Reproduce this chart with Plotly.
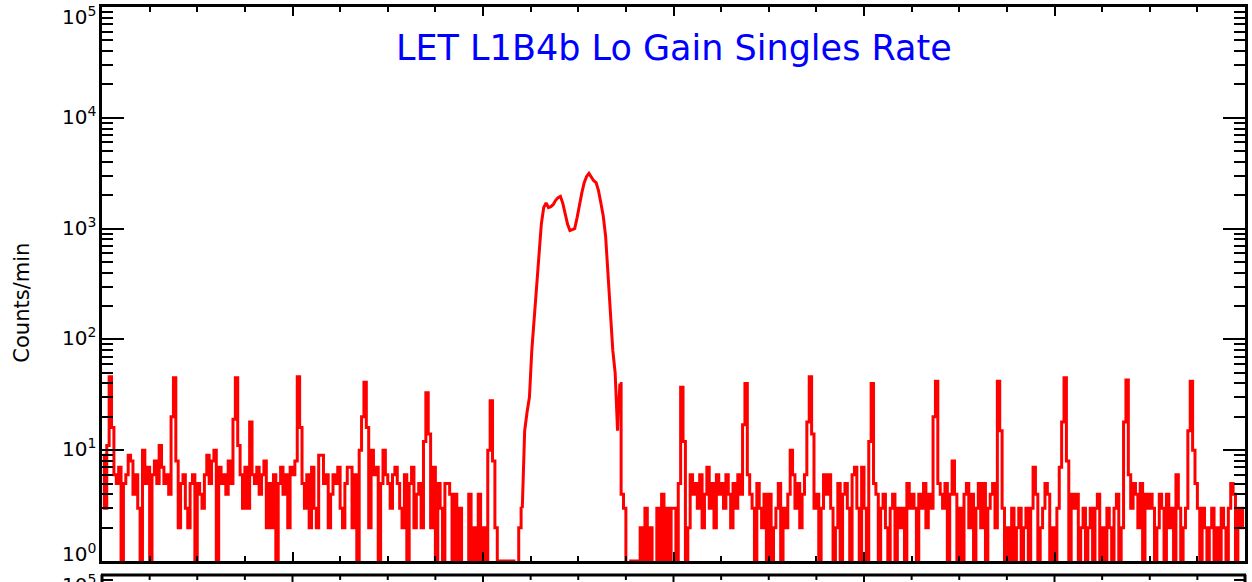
import plotly.graph_objects as go

# Counts/min in 3-minute bins, 20 bins per hour, hours 0..23
h00 = [9, 3, 11, 46, 16, 6, 5, 7, 0, 5, 6, 9, 8, 4, 6, 3, 0, 10, 5, 7]
h01 = [0, 6, 8, 5, 11, 7, 5, 6, 4, 20, 45, 8, 2, 5, 6, 3, 2, 5, 6, 0]
h02 = [5, 4, 3, 6, 9, 5, 8, 10, 0, 7, 5, 6, 4, 8, 5, 19, 45, 11, 6, 3]
h03 = [7, 3, 18, 6, 5, 7, 4, 6, 8, 2, 5, 2, 6, 0, 5, 7, 4, 6, 2, 7]
h04 = [6, 8, 46, 16, 5, 3, 6, 2, 7, 3, 2, 9, 9, 5, 6, 2, 4, 6, 5, 7]
h05 = [3, 2, 5, 7, 7, 2, 6, 0, 10, 20, 41, 16, 2, 10, 6, 7, 0, 5, 10, 6]
h06 = [5, 3, 6, 7, 5, 3, 2, 6, 0, 5, 7, 2, 4, 5, 2, 12, 33, 14, 2, 7]
h07 = [0, 5, 3, 0, 5, 5, 4, 0, 4, 0, 3, 0, 0, 0, 4, 0, 2, 0, 4, 0]
h08 = [2, 0, 10, 28, 8, 2, 0, 1, 1, 1, 0, 1, 1, 0, 0, 2, 3, 15, 22, 30]
h09 = [80, 160, 330, 640, 1100, 1550, 1700, 1550, 1580, 1650, 1800, 1900, 1950, 1700, 1350, 1100, 960, 980, 1000, 1250]
h10 = [1700, 2100, 2600, 2950, 3150, 2900, 2700, 2600, 2200, 1700, 1300, 850, 400, 170, 80, 50, 15, 40, 4, 3]
h11 = [0, 0, 1, 1, 1, 0, 2, 0, 3, 0, 2, 0, 0, 3, 0, 4, 0, 3, 0, 3]
h12 = [3, 0, 5, 37, 12, 0, 2, 6, 4, 5, 3, 6, 2, 4, 7, 3, 5, 2, 6, 4]
h13 = [5, 3, 6, 4, 2, 5, 3, 6, 4, 17, 40, 6, 4, 3, 0, 5, 3, 2, 4, 0]
h14 = [4, 0, 2, 3, 5, 0, 3, 2, 4, 10, 6, 3, 5, 2, 4, 6, 18, 46, 14, 3]
h15 = [4, 0, 3, 6, 4, 6, 3, 0, 2, 5, 0, 4, 5, 3, 0, 6, 7, 3, 0, 7]
h16 = [3, 0, 12, 40, 5, 4, 0, 3, 4, 2, 0, 3, 4, 0, 3, 2, 3, 0, 5, 3]
h17 = [4, 3, 0, 4, 3, 5, 2, 4, 3, 20, 42, 5, 4, 3, 5, 0, 4, 8, 4, 0]
h18 = [3, 0, 4, 5, 2, 4, 0, 3, 5, 2, 5, 0, 3, 4, 5, 2, 42, 15, 3, 0]
h19 = [2, 0, 3, 0, 2, 3, 0, 2, 3, 0, 3, 7, 4, 0, 2, 3, 5, 4, 0, 2]
h20 = [0, 3, 7, 18, 45, 8, 0, 4, 3, 4, 0, 2, 3, 0, 2, 3, 0, 3, 4, 0]
h21 = [2, 0, 3, 2, 0, 3, 4, 0, 2, 18, 43, 6, 3, 5, 4, 2, 5, 0, 4, 3]
h22 = [4, 3, 0, 2, 4, 3, 0, 4, 2, 3, 0, 6, 3, 0, 2, 3, 15, 42, 10, 5]
h23 = [3, 0, 3, 2, 0, 2, 3, 0, 2, 0, 3, 2, 0, 3, 5, 4, 0, 3, 2, 3]

hours = [h00, h01, h02, h03, h04, h05, h06, h07, h08, h09, h10, h11,
         h12, h13, h14, h15, h16, h17, h18, h19, h20, h21, h22, h23]
counts = [v for h in hours for v in h]
bin_hours = 0.05
time = [(i + 0.5) * bin_hours for i in range(len(counts))]

title_text = "LET L1B4b Lo Gain Singles Rate"
ytitle = "Counts/min"
y_tickvals = [1, 10, 100, 1000, 10000, 100000]
y_labels = ["10<sup>0</sup>", "10<sup>1</sup>", "10<sup>2</sup>", "10<sup>3</sup>",
            "10<sup>4</sup>", "10<sup>5</sup>"]

# zero counts are drawn below the log axis floor (clipped), as in the original
y_plot = [v if v > 0 else 0.1 for v in counts]

W, H = 1252, 582
L, R, T, B = 102, 1248, 6, 561
pw, ph = R - L, B - T

def py(Y):
    return (B - Y) / ph

def px(X):
    return (X - L) / pw

fig = go.Figure()
# the fine-resolution histogram looks stepped at low counts and smooth on the peak
p0, p1 = 176, 217
segments = [(0, p0 + 1, "hvh"), (p0, p1 + 1, "linear"), (p1, len(counts), "hvh")]
for a, b, shp in segments:
    fig.add_trace(go.Scatter(x=time[a:b], y=y_plot[a:b], mode="lines",
                             line=dict(color="#ff0000", width=3, shape=shp),
                             hoverinfo="skip", showlegend=False))

FONT = "DejaVu Sans, Arial, sans-serif"
tickfont = dict(family=FONT, size=20, color="black")

fig.update_layout(
    width=W, height=H,
    margin=dict(l=L, r=W - R, t=T, b=H - B, pad=0),
    paper_bgcolor="white", plot_bgcolor="white",
    xaxis=dict(range=[0, 24], showgrid=False, zeroline=False,
               showline=True, linecolor="black", linewidth=3, mirror="allticks",
               ticks="inside", ticklen=9, tickwidth=2, tickcolor="black",
               tick0=0, dtick=4, showticklabels=False,
               minor=dict(ticks="inside", ticklen=5, tickwidth=2, tickcolor="black", dtick=1)),
    yaxis=dict(type="log", range=[0, 5], showgrid=False, zeroline=False,
               showline=True, linecolor="black", linewidth=3, mirror="allticks",
               ticks="inside", ticklen=22, tickwidth=2, tickcolor="black",
               tickvals=y_tickvals, showticklabels=False,
               minor=dict(ticks="inside", ticklen=11, tickwidth=2, tickcolor="black", dtick="D1")),
)

ann = []
ann.append(dict(text=title_text, x=0.5, y=py(47), xref="paper", yref="paper",
                xanchor="center", yanchor="middle", showarrow=False,
                font=dict(family=FONT, size=35, color="#0000ff")))
ann.append(dict(text=ytitle, x=px(22), y=py(302), xref="paper", yref="paper",
                xanchor="center", yanchor="middle", textangle=-90, showarrow=False,
                font=dict(family=FONT, size=21, color="black")))
# y tick labels; the end labels are kept inside the frame as in the original
label_centers = [553, 448, 337, 226, 115, 15]
for txt, yc in zip(y_labels, label_centers):
    ann.append(dict(text=txt, x=px(98), y=py(yc), xref="paper", yref="paper",
                    xanchor="right", yanchor="middle", showarrow=False, font=tickfont))
# top label of the panel below (cut by the page edge)
ann.append(dict(text=y_labels[-1], x=px(98), y=py(15 + 569), xref="paper", yref="paper",
                xanchor="right", yanchor="middle", showarrow=False, font=tickfont))
fig.update_layout(annotations=ann)

# frame of the panel below, only its top edge is visible
shapes = []
y2 = py(575)
shapes.append(dict(type="line", xref="paper", yref="paper", x0=-0.001, x1=1.001, y0=y2, y1=y2,
                   line=dict(color="black", width=3)))
for xx in (0, 1):
    shapes.append(dict(type="line", xref="paper", yref="paper", x0=xx, x1=xx, y0=y2, y1=py(600),
                       line=dict(color="black", width=3)))
for hr in range(1, 24):
    ln = 9 if hr % 4 == 0 else 5
    shapes.append(dict(type="line", xref="x", yref="paper", x0=hr, x1=hr, y0=y2, y1=py(575 + ln),
                       line=dict(color="black", width=2)))
for xx, d in ((0, 1), (1, -1)):
    shapes.append(dict(type="line", xref="paper", yref="paper", x0=xx, x1=xx + d * 11 / pw,
                       y0=py(580), y1=py(580), line=dict(color="black", width=2)))
fig.update_layout(shapes=shapes)

fig.write_html("out.html", config={"displayModeBar": False},
               post_script="document.body.style.margin='0';document.body.style.overflow='hidden';")
